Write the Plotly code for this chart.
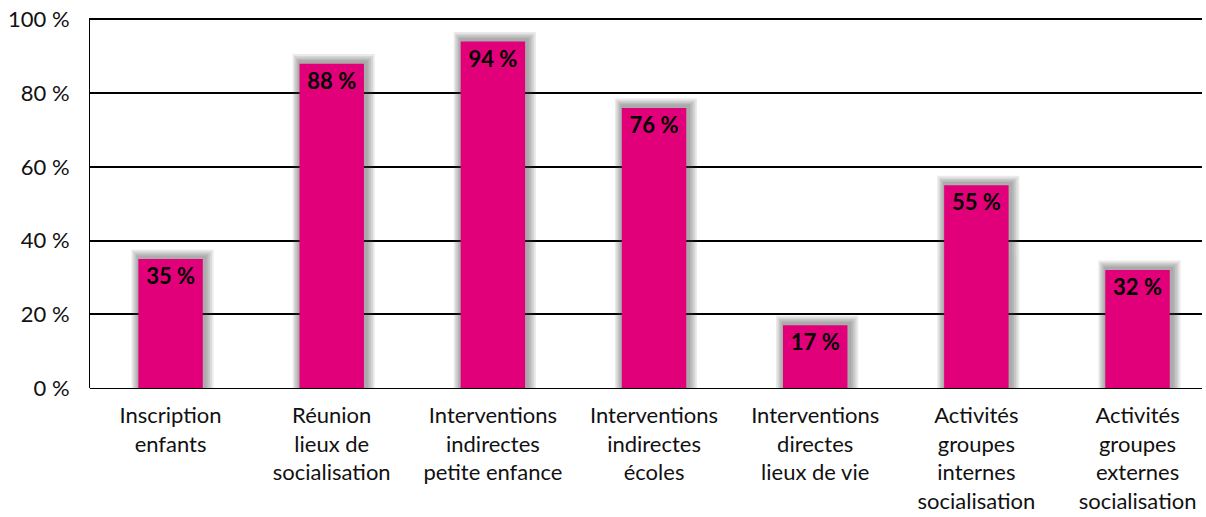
import plotly.graph_objects as go

CATEGORIES = [
    "Inscription<br>enfants",
    "Réunion<br>lieux de<br>socialisation",
    "Interventions<br>indirectes<br>petite enfance",
    "Interventions<br>indirectes<br>écoles",
    "Interventions<br>directes<br>lieux de vie",
    "Activités<br>groupes<br>internes<br>socialisation",
    "Activités<br>groupes<br>externes<br>socialisation",
]
VALUES = [35, 88, 94, 76, 17, 55, 32]
TICK_VALUES = [0, 20, 40, 60, 80, 100]
TICK_LABELS = ["0 %", "20 %", "40 %", "60 %", "80 %", "100 %"]

MAGENTA = "#e2007a"
FONT = "Lato"

x_pos = list(range(len(CATEGORIES)))

fig = go.Figure()

# soft drop shadow behind each bar (stacked translucent layers)
for w, dx, dy in [(0.51, 0.012, 2.6), (0.49, 0.011, 2.1), (0.47, 0.01, 1.7), (0.45, 0.009, 1.3), (0.43, 0.008, 0.9)]:
    fig.add_trace(
        go.Bar(
            x=[p + dx for p in x_pos],
            y=[v + dy for v in VALUES],
            width=w,
            marker=dict(color="rgb(60,60,60)", line_width=0),
            opacity=0.1,
            hoverinfo="skip",
            showlegend=False,
        )
    )

fig.add_trace(
    go.Bar(
        x=x_pos,
        y=VALUES,
        width=0.40,
        marker=dict(color=MAGENTA, line_width=0),
        text=[f"{v} %" for v in VALUES],
        textposition="inside",
        insidetextanchor="end",
        textangle=0,
        textfont=dict(family=FONT, size=22, color="black", weight="bold"),
        constraintext="none",
        showlegend=False,
    )
)

fig.update_layout(
    barmode="overlay",
    width=1206,
    height=517,
    margin=dict(l=90, r=4, t=18, b=129),
    paper_bgcolor="white",
    plot_bgcolor="white",
    font=dict(family=FONT, size=22, color="#111111"),
    xaxis=dict(
        tickmode="array",
        tickvals=x_pos,
        ticktext=CATEGORIES,
        range=[-0.5, 6.4],
        showgrid=False,
        zeroline=False,
        showline=False,
        ticks="",
        automargin=False,
        ticklabeloverflow="allow",
        ticklabelstandoff=12,
        tickfont=dict(family=FONT, size=22, color="#111111"),
    ),
    yaxis=dict(
        range=[0, 100.4],
        tickmode="array",
        tickvals=TICK_VALUES,
        ticktext=TICK_LABELS,
        showgrid=True,
        gridcolor="black",
        gridwidth=2,
        zeroline=True,
        zerolinecolor="black",
        zerolinewidth=1,
        showline=True,
        linecolor="black",
        linewidth=1,
        ticks="",
        automargin=False,
        ticklabeloverflow="allow",
        ticklabelstandoff=15,
        tickfont=dict(family=FONT, size=22, color="#111111"),
    ),
)

# drop the default 8px body margin so the figure fills the window
fig.write_html(
    "out.html",
    config={"displayModeBar": False},
    post_script="document.body.style.margin = '0';",
)
